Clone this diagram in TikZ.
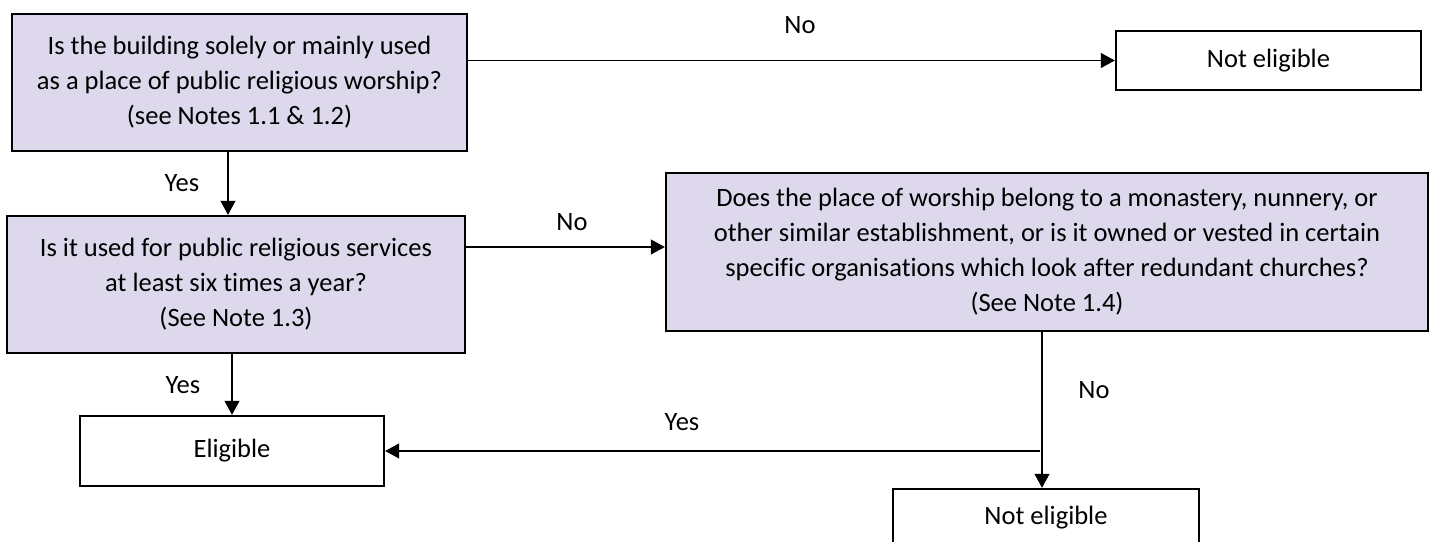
\documentclass[tikz,border=0pt]{standalone}
\usepackage{fontspec}
\setmainfont{Carlito}[Ligatures={NoCommon}]
\usetikzlibrary{arrows.meta}
\definecolor{lav}{RGB}{221,216,236}
\begin{document}
\begin{tikzpicture}[x=1pt,y=-1pt,
  qbox/.style={draw=black,line width=2.4pt,fill=lav,inner sep=0pt,align=center,font=\fontsize{26.5}{35}\selectfont},
  ebox/.style={draw=black,line width=2.4pt,fill=white,inner sep=0pt,align=center,font=\fontsize{26.5}{35}\selectfont},
  arr/.style={line width=1.2pt,-{Triangle[length=14pt,width=15pt]}},
  lbl/.style={font=\fontsize{26.5}{35}\selectfont,inner sep=0pt}]
\useasboundingbox (0,0) rectangle (1438,541);
\node[qbox,minimum width=455pt,minimum height=137pt] (A) at (239.5,82.5)
  {Is the building solely or mainly used\\as a place of public religious worship?\\(see Notes 1.1 \& 1.2)};
\node[ebox,minimum width=305pt,minimum height=59pt] (N1) at (1268.5,60.5) {Not eligible};
\node[qbox,minimum width=458pt,minimum height=137pt] (B) at (236,284.5)
  {Is it used for public religious services\\at least six times a year?\\(See Note 1.3)};
\node[qbox,minimum width=762pt,minimum height=158pt] (C) at (1047,252)
  {Does the place of worship belong to a monastery, nunnery, or\\other similar establishment, or is it owned or vested in certain\\specific organisations which look after redundant churches?\\(See Note 1.4)};
\node[ebox,minimum width=304pt,minimum height=70pt] (E) at (232,451) {Eligible};
\node[ebox,minimum width=306pt,minimum height=58pt] (N2) at (1046,518) {Not eligible};
\coordinate (ab) at (228,0);
\coordinate (cn) at (1042,0);
\draw[arr] (A.east |- N1.west) -- (N1.west);
\draw[arr] (ab |- A.south) -- (ab |- B.north);
\draw[arr] ([yshift=5pt]C.west -| B.east) -- ([yshift=5pt]C.west);
\draw[arr] (E.north |- B.south) -- (E.north);
\draw[arr] (cn |- C.south) -- (cn |- N2.north);
\draw[arr] ([xshift=-2pt]cn |- E.east) -- (E.east);
\node[lbl] (l1) at (800,25) {No};
\node[lbl] (l2) at (182,183) {Yes};
\node[lbl] (l3) at (572,222) {No};
\node[lbl] (l4) at (183,385) {Yes};
\node[lbl] (l5) at (1094,390) {No};
\node[lbl] (l6) at (682,422) {Yes};
\end{tikzpicture}
\end{document}
